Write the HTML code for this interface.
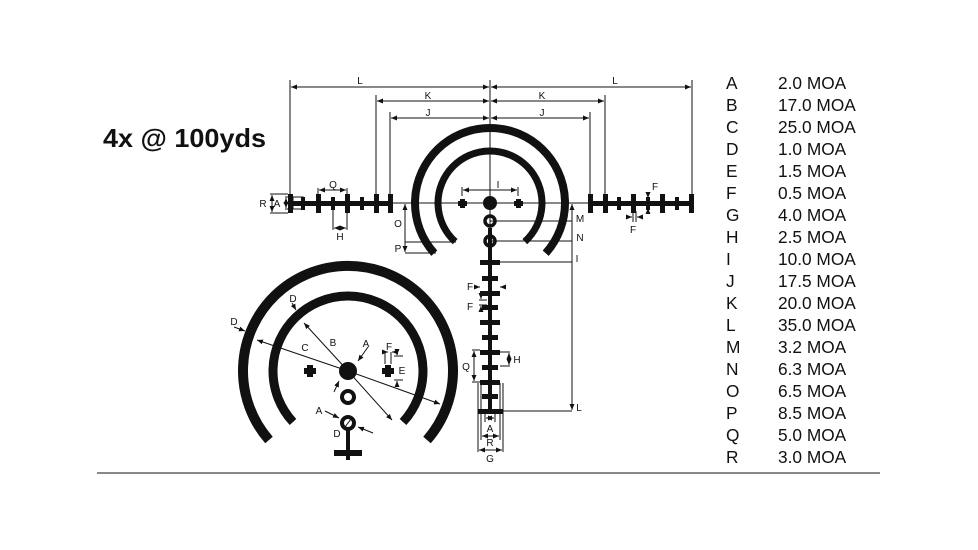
<!DOCTYPE html>
<html><head><meta charset="utf-8"><style>
html,body{margin:0;padding:0;background:#fff;}
svg{display:block;}
text{font-family:"Liberation Sans",sans-serif;fill:#111;}
</style></head><body>
<svg width="978" height="550" viewBox="0 0 978 550" xmlns="http://www.w3.org/2000/svg">
<defs>
<marker id="ar" markerWidth="6" markerHeight="6" refX="6" refY="3" orient="auto-start-reverse" markerUnits="userSpaceOnUse"><path d="M0,0.5 L6,3 L0,5.5 z" fill="#111"/></marker>
</defs>
<text x="103" y="147" font-size="26" font-weight="bold" textLength="163" lengthAdjust="spacingAndGlyphs">4x @ 100yds</text>
<line x1="97" y1="473" x2="880" y2="473" stroke="#111" stroke-width="1"/>

<!-- list -->
<g font-size="17.3">
<text x="726" y="89">A</text><text x="778" y="89">2.0 MOA</text>
<text x="726" y="111">B</text><text x="778" y="111">17.0 MOA</text>
<text x="726" y="133">C</text><text x="778" y="133">25.0 MOA</text>
<text x="726" y="155">D</text><text x="778" y="155">1.0 MOA</text>
<text x="726" y="177">E</text><text x="778" y="177">1.5 MOA</text>
<text x="726" y="199">F</text><text x="778" y="199">0.5 MOA</text>
<text x="726" y="221">G</text><text x="778" y="221">4.0 MOA</text>
<text x="726" y="243">H</text><text x="778" y="243">2.5 MOA</text>
<text x="726" y="265">I</text><text x="778" y="265">10.0 MOA</text>
<text x="726" y="287">J</text><text x="778" y="287">17.5 MOA</text>
<text x="726" y="309">K</text><text x="778" y="309">20.0 MOA</text>
<text x="726" y="331">L</text><text x="778" y="331">35.0 MOA</text>
<text x="726" y="353">M</text><text x="778" y="353">3.2 MOA</text>
<text x="726" y="375">N</text><text x="778" y="375">6.3 MOA</text>
<text x="726" y="397">O</text><text x="778" y="397">6.5 MOA</text>
<text x="726" y="419">P</text><text x="778" y="419">8.5 MOA</text>
<text x="726" y="441">Q</text><text x="778" y="441">5.0 MOA</text>
<text x="726" y="463">R</text><text x="778" y="463">3.0 MOA</text>
</g>

<!-- main reticle -->
<g fill="none" stroke="#111">
<path d="M434.3,253.2 A75,75 0 1 1 545.7,253.2" stroke-width="8"/>
<path d="M455.2,241.6 A52,52 0 1 1 524.8,241.6" stroke-width="7"/>
<line x1="290" y1="203" x2="692" y2="203" stroke-width="1"/>
<line x1="490" y1="80" x2="490" y2="410" stroke-width="1"/>
<line x1="490" y1="228" x2="490" y2="412" stroke-width="4"/>
<circle cx="490" cy="221" r="5" stroke-width="3.5"/>
<circle cx="490" cy="241" r="5" stroke-width="3.5"/>
</g>
<circle cx="490" cy="203" r="7" fill="#111"/>
<g fill="#111">
<rect x="458" y="201" width="9" height="5"/><rect x="460" y="199" width="5" height="9"/>
<rect x="514" y="201" width="9" height="5"/><rect x="516" y="199" width="5" height="9"/>
<rect x="290" y="201" width="101" height="5"/>
<rect x="288" y="194" width="5" height="19"/>
<rect x="301" y="197" width="4" height="13"/>
<rect x="316" y="194" width="5" height="19"/>
<rect x="331" y="197" width="4" height="13"/>
<rect x="345" y="194" width="5" height="19"/>
<rect x="360" y="197" width="4" height="13"/>
<rect x="374" y="194" width="5" height="19"/>
<rect x="388" y="194" width="5" height="19"/>
<rect x="590" y="201" width="102" height="5"/>
<rect x="588" y="194" width="5" height="19"/>
<rect x="603" y="194" width="5" height="19"/>
<rect x="617" y="197" width="4" height="13"/>
<rect x="631" y="194" width="5" height="19"/>
<rect x="646" y="197" width="4" height="13"/>
<rect x="660" y="194" width="5" height="19"/>
<rect x="675" y="197" width="4" height="13"/>
<rect x="689" y="194" width="5" height="19"/>
<rect x="480" y="260" width="20" height="5"/>
<rect x="482" y="276" width="16" height="5"/>
<rect x="480" y="291" width="20" height="5"/>
<rect x="482" y="305" width="16" height="5"/>
<rect x="480" y="320" width="20" height="5"/>
<rect x="482" y="335" width="16" height="5"/>
<rect x="480" y="350" width="20" height="5"/>
<rect x="482" y="365" width="16" height="5"/>
<rect x="480" y="380" width="20" height="5"/>
<rect x="482" y="394" width="16" height="5"/>
<rect x="478" y="409" width="25" height="5"/>
</g>

<!-- dims -->
<g stroke="#111" stroke-width="1" fill="none">
<line x1="290" y1="80" x2="290" y2="196"/>
<line x1="692" y1="80" x2="692" y2="196"/>
<line x1="376" y1="95" x2="376" y2="196"/>
<line x1="605" y1="95" x2="605" y2="196"/>
<line x1="390" y1="112" x2="390" y2="196"/>
<line x1="590" y1="112" x2="590" y2="196"/>
<line x1="291" y1="87" x2="489" y2="87" marker-start="url(#ar)" marker-end="url(#ar)"/>
<line x1="491" y1="87" x2="691" y2="87" marker-start="url(#ar)" marker-end="url(#ar)"/>
<line x1="377" y1="101" x2="489" y2="101" marker-start="url(#ar)" marker-end="url(#ar)"/>
<line x1="491" y1="101" x2="604" y2="101" marker-start="url(#ar)" marker-end="url(#ar)"/>
<line x1="391" y1="118" x2="489" y2="118" marker-start="url(#ar)" marker-end="url(#ar)"/>
<line x1="491" y1="118" x2="589" y2="118" marker-start="url(#ar)" marker-end="url(#ar)"/>
<line x1="462" y1="187" x2="462" y2="196"/><line x1="518" y1="187" x2="518" y2="196"/>
<line x1="463" y1="190" x2="517" y2="190" marker-start="url(#ar)" marker-end="url(#ar)"/>
<line x1="318" y1="188" x2="318" y2="194"/><line x1="347" y1="188" x2="347" y2="194"/>
<line x1="319" y1="190" x2="346" y2="190" marker-start="url(#ar)" marker-end="url(#ar)"/>
<line x1="333" y1="210" x2="333" y2="230"/><line x1="347" y1="210" x2="347" y2="230"/>
<line x1="334" y1="228" x2="346" y2="228" marker-start="url(#ar)" marker-end="url(#ar)"/>
<rect x="293" y="197" width="10" height="12"/>
<line x1="270" y1="194" x2="288" y2="194"/><line x1="270" y1="213" x2="288" y2="213"/>
<line x1="272" y1="195" x2="272" y2="212" marker-start="url(#ar)" marker-end="url(#ar)"/>
<line x1="285" y1="197" x2="293" y2="197"/><line x1="285" y1="209" x2="293" y2="209"/>
<line x1="286" y1="198" x2="286" y2="208" marker-start="url(#ar)" marker-end="url(#ar)"/>
<line x1="405" y1="204" x2="405" y2="252" marker-start="url(#ar)" marker-end="url(#ar)"/>
<line x1="405" y1="242" x2="456" y2="242"/>
<line x1="405" y1="253" x2="436" y2="253"/>
<line x1="490" y1="221" x2="572" y2="221"/>
<line x1="490" y1="241" x2="572" y2="241"/>
<line x1="500" y1="262" x2="572" y2="262"/>
<line x1="502" y1="411" x2="572" y2="411"/>
<line x1="572" y1="204" x2="572" y2="410" marker-start="url(#ar)" marker-end="url(#ar)"/>
<line x1="648" y1="192" x2="648" y2="198" marker-end="url(#ar)"/>
<line x1="648" y1="214" x2="648" y2="208" marker-end="url(#ar)"/>
<line x1="628" y1="217" x2="632" y2="217" marker-end="url(#ar)"/>
<line x1="642" y1="217" x2="637" y2="217" marker-end="url(#ar)"/>
<line x1="633" y1="211" x2="633" y2="222"/><line x1="636" y1="211" x2="636" y2="222"/>
<line x1="474" y1="287" x2="480" y2="287" marker-end="url(#ar)"/>
<line x1="506" y1="287" x2="500" y2="287" marker-end="url(#ar)"/>
<line x1="479" y1="300" x2="487" y2="300"/><line x1="479" y1="305" x2="487" y2="305"/>
<line x1="481" y1="293" x2="481" y2="299" marker-end="url(#ar)"/>
<line x1="481" y1="312" x2="481" y2="306" marker-end="url(#ar)"/>
<line x1="472" y1="350" x2="480" y2="350"/><line x1="472" y1="382" x2="480" y2="382"/>
<line x1="474" y1="351" x2="474" y2="381" marker-start="url(#ar)" marker-end="url(#ar)"/>
<line x1="500" y1="352" x2="510" y2="352"/><line x1="500" y1="366" x2="510" y2="366"/>
<line x1="509" y1="353" x2="509" y2="365" marker-start="url(#ar)" marker-end="url(#ar)"/>
<line x1="478" y1="383" x2="478" y2="452"/><line x1="503" y1="383" x2="503" y2="452"/>
<line x1="481" y1="383" x2="481" y2="440"/><line x1="500" y1="383" x2="500" y2="440"/>
<line x1="485" y1="412" x2="485" y2="422"/><line x1="495" y1="412" x2="495" y2="422"/>
<line x1="486" y1="418" x2="494" y2="418" marker-start="url(#ar)" marker-end="url(#ar)"/>
<line x1="482" y1="436" x2="499" y2="436" marker-start="url(#ar)" marker-end="url(#ar)"/>
<line x1="479" y1="450" x2="502" y2="450" marker-start="url(#ar)" marker-end="url(#ar)"/>
</g>
<g font-size="10" text-anchor="middle">
<text x="360" y="84">L</text><text x="615" y="84">L</text>
<text x="428" y="99">K</text><text x="542" y="99">K</text>
<text x="428" y="116">J</text><text x="542" y="116">J</text>
<text x="498" y="188">I</text>
<text x="333" y="188">Q</text><text x="340" y="240">H</text>
<text x="263" y="207">R</text><text x="277" y="207">A</text>
<text x="398" y="227">O</text><text x="398" y="252">P</text>
<text x="580" y="222">M</text><text x="580" y="241">N</text><text x="577" y="262">I</text><text x="579" y="411">L</text>
<text x="655" y="190">F</text><text x="633" y="233">F</text>
<text x="470" y="290">F</text><text x="470" y="310">F</text>
<text x="466" y="370">Q</text><text x="517" y="363">H</text>
<text x="490" y="432">A</text><text x="490" y="446">R</text><text x="490" y="462">G</text>
</g>

<!-- lower left reticle -->
<g fill="none" stroke="#111">
<path d="M269,440 A105,105 0 1 1 427,440" stroke-width="10"/>
<path d="M293,422 A75,75 0 1 1 403,422" stroke-width="9"/>
<circle cx="348" cy="397" r="6" stroke-width="4"/>
<circle cx="348" cy="423" r="6" stroke-width="4"/>
<line x1="348" y1="429" x2="348" y2="460" stroke-width="4"/>
<line x1="345" y1="427" x2="351" y2="419" stroke-width="1"/>
</g>
<g fill="#111">
<circle cx="348" cy="371" r="9"/>
<rect x="334" y="450" width="28" height="6"/>
<rect x="304" y="368" width="12" height="6"/><rect x="307" y="365" width="6" height="12"/>
<rect x="382" y="368" width="12" height="6"/><rect x="385" y="365" width="6" height="12"/>
</g>
<g stroke="#111" stroke-width="1" fill="none">
<line x1="348" y1="371" x2="257" y2="340" marker-end="url(#ar)"/>
<line x1="348" y1="371" x2="440" y2="404" marker-end="url(#ar)"/>
<line x1="348" y1="371" x2="304" y2="323" marker-end="url(#ar)"/>
<line x1="348" y1="371" x2="392" y2="420" marker-end="url(#ar)"/>
<line x1="368" y1="347" x2="358" y2="361" marker-end="url(#ar)"/>
<line x1="334" y1="392" x2="339" y2="381" marker-end="url(#ar)"/>
<line x1="292" y1="303" x2="296" y2="310" marker-end="url(#ar)"/>
<line x1="234" y1="327" x2="245" y2="331" marker-end="url(#ar)"/>
<line x1="325" y1="411" x2="339" y2="418" marker-end="url(#ar)"/>
<line x1="373" y1="433" x2="358" y2="427" marker-end="url(#ar)"/>
<line x1="382" y1="352" x2="388" y2="352" marker-end="url(#ar)"/>
<line x1="385" y1="352" x2="385" y2="364"/><line x1="391" y1="352" x2="391" y2="364"/>
<line x1="396" y1="352" x2="392" y2="352" marker-end="url(#ar)"/>
<line x1="394" y1="356" x2="403" y2="356"/><line x1="394" y1="380" x2="403" y2="380"/>
<line x1="397" y1="352" x2="397" y2="355" marker-end="url(#ar)"/>
<line x1="397" y1="386" x2="397" y2="381" marker-end="url(#ar)"/>
</g>
<g font-size="10" text-anchor="middle">
<text x="293" y="302">D</text><text x="234" y="325">D</text>
<text x="333" y="346">B</text><text x="305" y="351">C</text>
<text x="366" y="347">A</text><text x="389" y="350">F</text>
<text x="402" y="374">E</text><text x="319" y="414">A</text><text x="337" y="437">D</text>
</g>
</svg>
</body></html>
